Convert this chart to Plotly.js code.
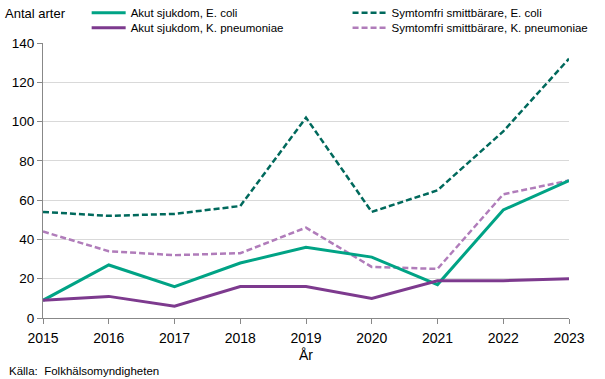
<!DOCTYPE html>
<html>
<head>
<meta charset="utf-8">
<script src="https://cdn.plot.ly/plotly-3.0.1.min.js"></script>
<style>html,body{margin:0;padding:0;background:#fff}</style>
</head>
<body>
<div id="chart" style="width:605px;height:379px"></div>
<script>
const years = [2015, 2016, 2017, 2018, 2019, 2020, 2021, 2022, 2023];
const akutEcoli = [9, 27, 16, 28, 36, 31, 17, 55, 70];
const akutKpn = [9, 11, 6, 16, 16, 10, 19, 19, 20];
const symEcoli = [54, 52, 53, 57, 102, 54, 65, 95, 132];
const symKpn = [44, 34, 32, 33, 46, 26, 25, 63, 70];
const names = ["Akut sjukdom, E. coli", "Akut sjukdom, K. pneumoniae", "Symtomfri smittbärare, E. coli", "Symtomfri smittbärare, K. pneumoniae"];

const font = "Tahoma, 'Liberation Sans', Arial, sans-serif";
const traces = [
  {x: years, y: symEcoli, name: names[2], legend: "legend3", mode: "lines", line: {color: "#00695C", width: 2.5, dash: "6px,3px"}},
  {x: years, y: symKpn, name: names[3], legend: "legend4", mode: "lines", line: {color: "#B07CBA", width: 2.5, dash: "6px,3px"}},
  {x: years, y: akutEcoli, name: names[0], legend: "legend", mode: "lines", line: {color: "#00A385", width: 3}},
  {x: years, y: akutKpn, name: names[1], legend: "legend2", mode: "lines", line: {color: "#7D3A8E", width: 3}}
];
const leg = (x, y) => ({x: x, y: y, xanchor: "left", yanchor: "middle", orientation: "v", font: {size: 11.5}, itemwidth: 34, bgcolor: "rgba(0,0,0,0)", borderwidth: 0});
const layout = {
  width: 605, height: 379,
  margin: {l: 43, r: 36, t: 43, b: 61, autoexpand: false},
  paper_bgcolor: "#fff", plot_bgcolor: "#fff",
  font: {family: font, size: 12, color: "#000"},
  showlegend: true,
  legend: leg(0.083, 1.11),
  legend2: leg(0.083, 1.0556),
  legend3: leg(0.579, 1.11),
  legend4: leg(0.579, 1.0556),
  xaxis: {
    range: [2015, 2023], tickvals: years, ticktext: years.map(String),
    showline: true, linecolor: "#888", linewidth: 1, ticks: "outside", tickcolor: "#888", ticklen: 5,
    ticklabelstandoff: 2, tickfont: {size: 14},
    showgrid: false, zeroline: false, fixedrange: true,
    title: {text: "År", font: {size: 14}, standoff: 5}
  },
  yaxis: {
    range: [0, 140], tickvals: [0, 20, 40, 60, 80, 100, 120, 140],
    showline: true, linecolor: "#888", linewidth: 1, ticks: "outside", tickcolor: "#888", ticklen: 5,
    showgrid: true, gridcolor: "#d9d9d9", zeroline: false, fixedrange: true,
    tickfont: {size: 13.5}
  },
  annotations: [
    {text: "Antal arter", xref: "paper", yref: "paper", x: -0.076, y: 1.108, xanchor: "left", yanchor: "middle", showarrow: false, font: {size: 13}},
    {text: "Källa:  Folkhälsomyndigheten", xref: "paper", yref: "paper", x: -0.068, y: -0.192, xanchor: "left", yanchor: "middle", showarrow: false, font: {size: 11.5}}
  ]
};
Plotly.newPlot("chart", traces, layout, {displayModeBar: false, staticPlot: true});
</script>
</body>
</html>
